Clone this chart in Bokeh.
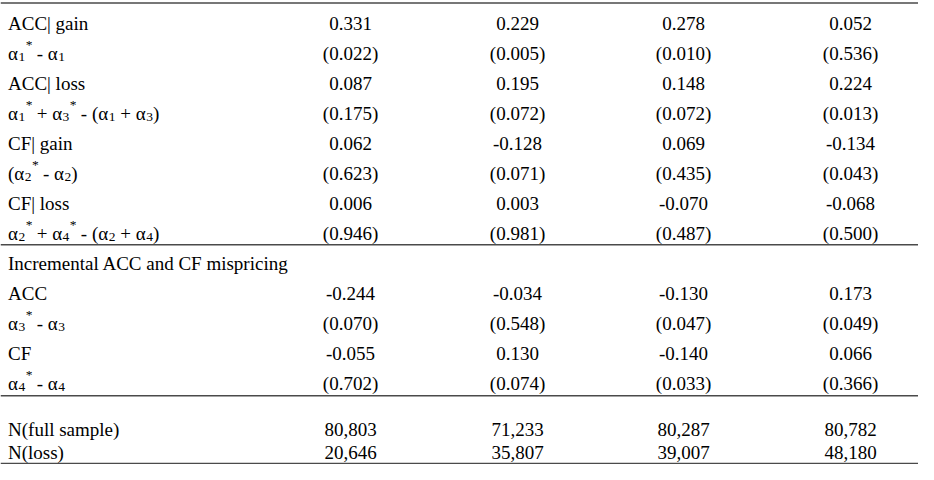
from bokeh.plotting import figure
from bokeh.models import ColumnDataSource, Range1d
from bokeh.core.properties import value
from bokeh.embed import file_html
from bokeh.resources import INLINE

# ---------------- data ----------------
# "_d" marks a subscript character, "^*" a superscript character
row_labels = [
    "ACC| gain",
    "α_1^* - α_1",
    "ACC| loss",
    "α_1^* + α_3^* - (α_1 + α_3)",
    "CF| gain",
    "(α_2^* - α_2)",
    "CF| loss",
    "α_2^* + α_4^* - (α_2 + α_4)",
    "Incremental ACC and CF mispricing",
    "ACC",
    "α_3^* - α_3",
    "CF",
    "α_4^* - α_4",
    "N(full sample)",
    "N(loss)",
]
# row kinds: c = coefficient, p = p-value in parentheses, h = heading, n = count
row_kinds = ["c", "p", "c", "p", "c", "p", "c", "p", "h", "c", "p", "c", "p", "n", "n"]

col1 = [0.331, 0.022, 0.087, 0.175, 0.062, 0.623, 0.006, 0.946, None,
        -0.244, 0.070, -0.055, 0.702, 80803, 20646]
col2 = [0.229, 0.005, 0.195, 0.072, -0.128, 0.071, 0.003, 0.981, None,
        -0.034, 0.548, 0.130, 0.074, 71233, 35807]
col3 = [0.278, 0.010, 0.148, 0.072, 0.069, 0.435, -0.070, 0.487, None,
        -0.130, 0.047, -0.140, 0.033, 80287, 39007]
col4 = [0.052, 0.536, 0.224, 0.013, -0.134, 0.043, -0.068, 0.500, None,
        0.173, 0.049, 0.066, 0.366, 80782, 48180]
columns = [col1, col2, col3, col4]

# ---------------- layout ----------------
FONT = "Liberation Serif"
BASE = 19.0
SMALL = 13.5
TEXT_DY = -7.5          # renderer places text lower than the nominal baseline
col_x = [350, 517, 683, 850]
label_x = 7.5
row_baseline = [31.7 + 30 * i + TEXT_DY for i in range(13)] + [438.0 + TEXT_DY, 461.0 + TEXT_DY]
rule_y = [4.0, 245.7, 396.7, 464.6]

EM = {"α": 0.55, "*": 0.5, "+": 0.564, "-": 0.333, "(": 0.333, ")": 0.333,
      " ": 0.25, "|": 0.2}


def char_w(ch, size):
    if ch.isdigit():
        return 0.5 * size
    return EM.get(ch, 0.5) * size


def fmt(v, kind):
    if v is None:
        return ""
    if kind == "c":
        return f"{v:.3f}"
    if kind == "p":
        return f"({v:.3f})"
    return f"{int(v):,}"


def pieces(label):
    out = []  # (text, style)
    i = 0
    buf = ""
    while i < len(label):
        ch = label[i]
        if ch in "_^" and i + 1 < len(label):
            if buf:
                out.append((buf, "n"))
                buf = ""
            out.append((label[i + 1], "sub" if ch == "_" else "sup"))
            i += 2
        else:
            buf += ch
            i += 1
    if buf:
        out.append((buf, "n"))
    return out


norm = dict(x=[], y=[], t=[])
sub = dict(x=[], y=[], t=[])
sup = dict(x=[], y=[], t=[])
for lab, yb in zip(row_labels, row_baseline):
    x = label_x
    for txt, st in pieces(lab):
        if st == "n":
            # SVG collapses leading / trailing blanks: advance for them by hand
            lead = len(txt) - len(txt.lstrip(" "))
            core = txt.strip(" ")
            trail = len(txt) - lead - len(core)
            x += lead * char_w(" ", BASE)
            if core:
                norm["x"].append(x); norm["y"].append(yb); norm["t"].append(core)
                x += sum(char_w(c, BASE) for c in core)
            x += trail * char_w(" ", BASE)
        elif st == "sub":
            sub["x"].append(x); sub["y"].append(yb + 3.8); sub["t"].append(txt)
            x += char_w(txt, SMALL)
        else:
            sup["x"].append(x + 0.5); sup["y"].append(yb - 8.5); sup["t"].append(txt)
            x += char_w(txt, SMALL)

val = dict(x=[], y=[], t=[])
for cx, col in zip(col_x, columns):
    for v, kind, yb in zip(col, row_kinds, row_baseline):
        s = fmt(v, kind)
        if s:
            val["x"].append(cx); val["y"].append(yb); val["t"].append(s)

# ---------------- figure ----------------
p = figure(width=918, height=464, output_backend="svg", toolbar_location=None,
           x_range=Range1d(0, 918), y_range=Range1d(465.5, 1.5),
           min_border=0)
p.axis.visible = False
p.grid.visible = False
p.outline_line_color = None
p.background_fill_color = "white"
p.border_fill_color = "white"

rules = ColumnDataSource(dict(x0=[0] * len(rule_y), x1=[918] * len(rule_y), y=rule_y))
p.segment(x0="x0", x1="x1", y0="y", y1="y", source=rules,
          line_color="#4a4a4a", line_width=1.6)

common = dict(text_font=value(FONT), text_color="black", text_baseline="alphabetic")
p.text(x="x", y="y", text="t", source=ColumnDataSource(norm),
       text_font_size=f"{BASE}px", text_align="left", **common)
p.text(x="x", y="y", text="t", source=ColumnDataSource(sub),
       text_font_size=f"{SMALL}px", text_align="left", **common)
p.text(x="x", y="y", text="t", source=ColumnDataSource(sup),
       text_font_size=f"{SMALL}px", text_align="left", **common)
p.text(x="x", y="y", text="t", source=ColumnDataSource(val),
       text_font_size=f"{BASE}px", text_align="center", **common)

open("out.html", "w").write(file_html(p, INLINE))
